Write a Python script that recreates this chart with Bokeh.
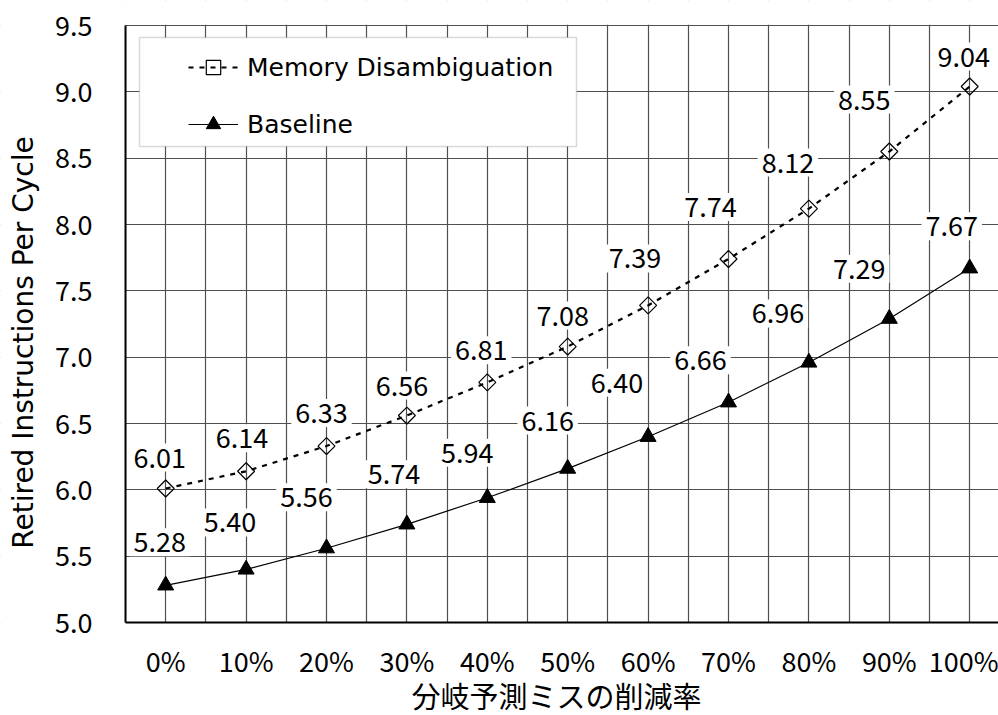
import numpy as np
from bokeh.plotting import figure
from bokeh.models import (ColumnDataSource, FixedTicker, PrintfTickFormatter, Legend,
                          LegendItem, BoxAnnotation, Range1d, Label)
from bokeh.embed import file_html
from bokeh.resources import INLINE
from bokeh.core.properties import value

# Branch-misprediction reduction rate (x categories)
reduction_labels = ["0%", "10%", "20%", "30%", "40%", "50%", "60%", "70%", "80%", "90%", "100%"]

# Retired instructions per cycle
memory_disambiguation = [6.01, 6.14, 6.33, 6.56, 6.81, 7.08, 7.39, 7.74, 8.12, 8.55, 9.04]
baseline = [5.28, 5.40, 5.56, 5.74, 5.94, 6.16, 6.40, 6.66, 6.96, 7.29, 7.67]

y_ticks = [5.0, 5.5, 6.0, 6.5, 7.0, 7.5, 8.0, 8.5, 9.0, 9.5]

x_title = "分岐予測ミスの削減率"
y_title = "Retired Instructions Per Cycle"

# Pixel offsets of the value labels relative to their points
md_label_dx = [-6, -4, -5, -5, -6, -5, -13, -18, -21, -25, -6]
md_label_dy = [-31, -33, -33, -30, -32, -31, -47, -52, -46, -52, -30]
bl_label_dx = [-6, -16, -20, -13, -20, -20, -31, -28, -31, -30, -18]
bl_label_dy = [-43, -47, -51, -50, -45, -48, -54, -42, -49, -50, -42]

xs = list(range(len(reduction_labels)))

md_src = ColumnDataSource(dict(x=xs, y=memory_disambiguation,
                               label=[f"{v:.2f}" for v in memory_disambiguation],
                               dx=md_label_dx, dy=md_label_dy))
bl_src = ColumnDataSource(dict(x=xs, y=baseline,
                               label=[f"{v:.2f}" for v in baseline],
                               dx=bl_label_dx, dy=bl_label_dy))

NUM_FONT = "Noto Sans CJK JP"
GRID = "#505050"

# Plot region: x from -0.5 (125 px) at 80.4 px per category,
# y from 5.0 (622 px) to 9.5 (25 px); the frame spans the whole canvas so
# the axes can sit inside it at fixed locations.
X0, Y0, Y1 = -0.5, 5.0, 9.5
px_x = 80.4
px_y = 597 / (Y1 - Y0)
x_range = Range1d(X0 - 125 / px_x, X0 + 873 / px_x)
y_range = Range1d(Y0 - 93 / px_y, Y1 + 25 / px_y)

p = figure(width=998, height=715, output_backend="svg", toolbar_location=None,
           x_range=x_range, y_range=y_range, min_border=0)
p.outline_line_color = None
p.background_fill_color = "white"
p.border_fill_color = "white"

# grid: lines on every category and between categories
p.xaxis.ticker = FixedTicker(ticks=xs, minor_ticks=[i - 0.5 for i in range(len(xs) + 1)])
p.yaxis.ticker = FixedTicker(ticks=y_ticks)
p.xgrid.grid_line_color = GRID
p.xgrid.minor_grid_line_color = GRID
p.ygrid.grid_line_color = GRID
p.xgrid.grid_line_width = 1.2
p.xgrid.minor_grid_line_width = 1.2
p.ygrid.grid_line_width = 1.2

# mask the grid outside the plotting rectangle
pad = 1.0
for kw in (dict(left=x_range.start - pad, right=X0, bottom=y_range.start - pad, top=y_range.end + pad),
           dict(left=x_range.start - pad, right=x_range.end + pad, bottom=y_range.start - pad, top=Y0),
           dict(left=x_range.start - pad, right=x_range.end + pad, bottom=Y1 + 0.8 / px_y,
                top=y_range.end + pad)):
    p.add_layout(BoxAnnotation(level="underlay", fill_color="white", fill_alpha=1.0,
                               line_color=None, **kw))

p.xaxis.fixed_location = Y0
p.yaxis.fixed_location = X0
p.xaxis.bounds = (X0, x_range.end)
p.yaxis.bounds = (Y0, Y1)

p.xaxis.major_label_overrides = {i: lab for i, lab in enumerate(reduction_labels)}
p.yaxis.formatter = PrintfTickFormatter(format="%.1f")

for ax in (p.xaxis[0], p.yaxis[0]):
    ax.axis_line_color = "black"
    ax.axis_line_width = 2
    ax.major_tick_line_color = None
    ax.minor_tick_line_color = None
    ax.major_tick_out = 0
    ax.minor_tick_out = 0
    ax.major_tick_in = 0
    ax.minor_tick_in = 0
    ax.major_label_text_font = NUM_FONT
    ax.major_label_text_font_size = "27px"
    ax.major_label_text_color = "black"

p.yaxis.major_label_standoff = 33
p.xaxis.major_label_standoff = 18

# axis titles
p.add_layout(Label(x=23, y=342, x_units="canvas", y_units="canvas", angle=np.pi / 2,
                   text=y_title, text_font="DejaVu Sans",
                   text_font_size="28px", text_color="black",
                   text_align="center", text_baseline="middle"))
p.add_layout(Label(x=556, y=694, x_units="canvas", y_units="canvas",
                   text=x_title, text_font="Noto Sans CJK JP",
                   text_font_size="29px", text_color="black",
                   text_align="center", text_baseline="middle"))

# series
md_line = p.line("x", "y", source=md_src, line_color="black", line_width=2.2, line_dash="5 6")
md_pts = p.scatter("x", "y", source=md_src, marker="square", angle=np.pi / 4, size=12,
                   fill_color=None, line_color="black", line_width=1.2)
bl_line = p.line("x", "y", source=bl_src, line_color="black", line_width=1.2)
bl_pts = p.scatter("x", "y", source=bl_src, marker="triangle", size=16,
                   fill_color="black", line_color="black")

# value labels
for src in (md_src, bl_src):
    p.text("x", "y", text="label", x_offset="dx", y_offset="dy", source=src,
           text_font=value(NUM_FONT), text_font_size="27px", text_color="black",
           text_align="center", text_baseline="middle",
           background_fill_color="white", padding=4)

# legend frame
legend_box = BoxAnnotation(left=139, right=576, top=37, bottom=146,
                           left_units="canvas", right_units="canvas",
                           top_units="canvas", bottom_units="canvas",
                           fill_color="white", fill_alpha=1.0,
                           line_color="#808080", line_width=1.5)
p.add_layout(legend_box)

legend = Legend(items=[LegendItem(label="Memory Disambiguation", renderers=[md_line, md_pts]),
                       LegendItem(label="Baseline", renderers=[bl_line, bl_pts])],
                location=(188, 715 - 142), padding=0, margin=0, spacing=21,
                glyph_width=50, glyph_height=36, label_height=36, label_standoff=9,
                label_text_font="DejaVu Sans", label_text_font_size="25px",
                label_text_color="black",
                border_line_color=None, background_fill_alpha=0)
p.add_layout(legend)

open("out.html", "w").write(file_html(p, INLINE))
